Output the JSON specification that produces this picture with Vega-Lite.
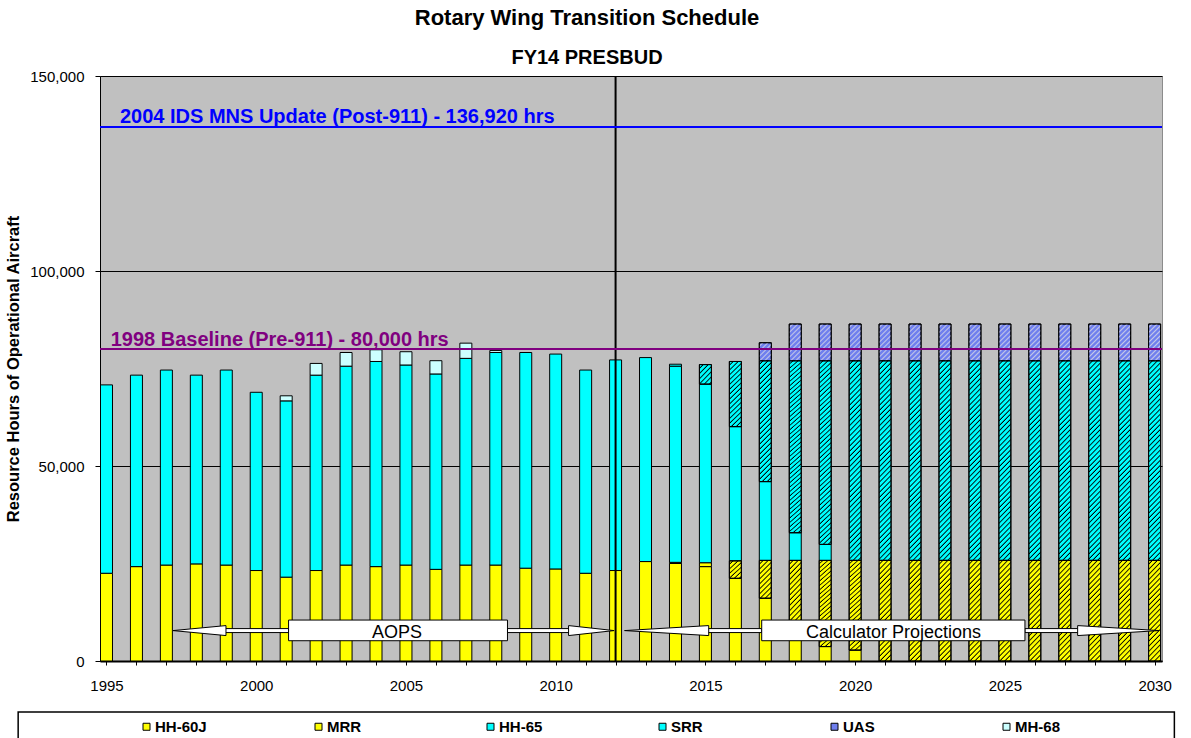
{
"$schema": "https://vega.github.io/schema/vega-lite/v6.json",
"width": 1062,
"height": 585,
"autosize": {"type": "none"},
"padding": {"left": 100, "top": 76, "right": 29, "bottom": 77},
"background": "white",
"title": {"text": "Rotary Wing Transition Schedule", "subtitle": "FY14 PRESBUD", "anchor": "middle", "frame": "group", "dx": -44, "offset": 0, "font": "Liberation Sans", "fontSize": 22, "fontWeight": "bold", "color": "black", "subtitleFont": "Liberation Sans", "subtitleFontSize": 20, "subtitleFontWeight": "bold", "subtitleColor": "black", "subtitlePadding": 18},
"config": {"view": {"fill": "#C0C0C0", "stroke": "#8C8C8C", "strokeWidth": 1}, "font": "Liberation Sans"},
"datasets": {
"bars": [
{"year":1995,"series":"HH-60J","hours":22500},{"year":1995,"series":"HH-65","hours":48300},
{"year":1996,"series":"HH-60J","hours":24200},{"year":1996,"series":"HH-65","hours":49100},
{"year":1997,"series":"HH-60J","hours":24600},{"year":1997,"series":"HH-65","hours":50000},
{"year":1998,"series":"HH-60J","hours":24900},{"year":1998,"series":"HH-65","hours":48400},
{"year":1999,"series":"HH-60J","hours":24600},{"year":1999,"series":"HH-65","hours":50000},
{"year":2000,"series":"HH-60J","hours":23200},{"year":2000,"series":"HH-65","hours":45700},
{"year":2001,"series":"HH-60J","hours":21500},{"year":2001,"series":"HH-65","hours":45200},{"year":2001,"series":"MH-68","hours":1300},
{"year":2002,"series":"HH-60J","hours":23200},{"year":2002,"series":"HH-65","hours":50100},{"year":2002,"series":"MH-68","hours":3000},
{"year":2003,"series":"HH-60J","hours":24600},{"year":2003,"series":"HH-65","hours":51000},{"year":2003,"series":"MH-68","hours":3500},
{"year":2004,"series":"HH-60J","hours":24200},{"year":2004,"series":"HH-65","hours":52600},{"year":2004,"series":"MH-68","hours":3000},
{"year":2005,"series":"HH-60J","hours":24600},{"year":2005,"series":"HH-65","hours":51300},{"year":2005,"series":"MH-68","hours":3400},
{"year":2006,"series":"HH-60J","hours":23500},{"year":2006,"series":"HH-65","hours":50100},{"year":2006,"series":"MH-68","hours":3400},
{"year":2007,"series":"HH-60J","hours":24600},{"year":2007,"series":"HH-65","hours":53000},{"year":2007,"series":"MH-68","hours":3900},
{"year":2008,"series":"HH-60J","hours":24600},{"year":2008,"series":"HH-65","hours":54500},{"year":2008,"series":"MH-68","hours":500},
{"year":2009,"series":"HH-60J","hours":23800},{"year":2009,"series":"HH-65","hours":55300},
{"year":2010,"series":"HH-60J","hours":23600},{"year":2010,"series":"HH-65","hours":55100},
{"year":2011,"series":"HH-60J","hours":22500},{"year":2011,"series":"HH-65","hours":52100},
{"year":2012,"series":"HH-60J","hours":23200},{"year":2012,"series":"HH-65","hours":54000},
{"year":2013,"series":"HH-60J","hours":25500},{"year":2013,"series":"HH-65","hours":52300},
{"year":2014,"series":"HH-60J","hours":25000},{"year":2014,"series":"MRR","hours":300},{"year":2014,"series":"HH-65","hours":50300},{"year":2014,"series":"SRR","hours":500},
{"year":2015,"series":"HH-60J","hours":24200},{"year":2015,"series":"MRR","hours":1000},{"year":2015,"series":"HH-65","hours":45800},{"year":2015,"series":"SRR","hours":5000},
{"year":2016,"series":"HH-60J","hours":21200},{"year":2016,"series":"MRR","hours":4500},{"year":2016,"series":"HH-65","hours":34400},{"year":2016,"series":"SRR","hours":16700},
{"year":2017,"series":"HH-60J","hours":16100},{"year":2017,"series":"MRR","hours":9700},{"year":2017,"series":"HH-65","hours":20200},{"year":2017,"series":"SRR","hours":31000},{"year":2017,"series":"UAS","hours":4600},
{"year":2018,"series":"HH-60J","hours":8000},{"year":2018,"series":"MRR","hours":17800},{"year":2018,"series":"HH-65","hours":7100},{"year":2018,"series":"SRR","hours":44100},{"year":2018,"series":"UAS","hours":9400},
{"year":2019,"series":"HH-60J","hours":3700},{"year":2019,"series":"MRR","hours":22100},{"year":2019,"series":"HH-65","hours":4100},{"year":2019,"series":"SRR","hours":47100},{"year":2019,"series":"UAS","hours":9400},
{"year":2020,"series":"HH-60J","hours":2800},{"year":2020,"series":"MRR","hours":23000},{"year":2020,"series":"SRR","hours":51200},{"year":2020,"series":"UAS","hours":9400},
{"year":2021,"series":"MRR","hours":25800},{"year":2021,"series":"SRR","hours":51200},{"year":2021,"series":"UAS","hours":9400},
{"year":2022,"series":"MRR","hours":25800},{"year":2022,"series":"SRR","hours":51200},{"year":2022,"series":"UAS","hours":9400},
{"year":2023,"series":"MRR","hours":25800},{"year":2023,"series":"SRR","hours":51200},{"year":2023,"series":"UAS","hours":9400},
{"year":2024,"series":"MRR","hours":25800},{"year":2024,"series":"SRR","hours":51200},{"year":2024,"series":"UAS","hours":9400},
{"year":2025,"series":"MRR","hours":25800},{"year":2025,"series":"SRR","hours":51200},{"year":2025,"series":"UAS","hours":9400},
{"year":2026,"series":"MRR","hours":25800},{"year":2026,"series":"SRR","hours":51200},{"year":2026,"series":"UAS","hours":9400},
{"year":2027,"series":"MRR","hours":25800},{"year":2027,"series":"SRR","hours":51200},{"year":2027,"series":"UAS","hours":9400},
{"year":2028,"series":"MRR","hours":25800},{"year":2028,"series":"SRR","hours":51200},{"year":2028,"series":"UAS","hours":9400},
{"year":2029,"series":"MRR","hours":25800},{"year":2029,"series":"SRR","hours":51200},{"year":2029,"series":"UAS","hours":9400},
{"year":2030,"series":"MRR","hours":25800},{"year":2030,"series":"SRR","hours":51200},{"year":2030,"series":"UAS","hours":9400}
],
"heads": [
{"id":"a1","year":1997.22,"y0":7800,"y1":7800},{"id":"a1","year":1998.99,"y0":6520,"y1":9080},
{"id":"a2","year":2010.43,"y0":6520,"y1":9080},{"id":"a2","year":2011.95,"y0":7800,"y1":7800},
{"id":"c1","year":2012.3,"y0":7800,"y1":7800},{"id":"c1","year":2015.11,"y0":6520,"y1":9080},
{"id":"c2","year":2027.43,"y0":6520,"y1":9080},{"id":"c2","year":2030.15,"y0":7800,"y1":7800}
],
"shafts": [
{"year":1998.9,"xend":2001.08,"y0":7290,"y1":8310},
{"year":2008.39,"xend":2010.5,"y0":7290,"y1":8310},
{"year":2015.0,"xend":2016.88,"y0":7290,"y1":8310},
{"year":2025.67,"xend":2027.5,"y0":7290,"y1":8310}
],
"boxes": [
{"year":2001.08,"xend":2008.39,"y0":5200,"y1":10500},
{"year":2016.88,"xend":2025.67,"y0":5200,"y1":10500}
],
"boxlabels": [
{"year":2004.7,"y1":7800,"label":"AOPS"},
{"year":2021.28,"y1":7800,"label":"Calculator Projections"}
],
"reflines": [
{"year":1990,"xend":2035,"y1":136920,"line":"IDS"},
{"year":1990,"xend":2035,"y1":80000,"line":"Baseline"}
],
"vline": [{"year":2012,"y0":0,"y1":150000}],
"frame": [{"year":1992.05,"xend":2030.66,"y1":-13077,"y0":-40000}]
},
"encoding": {
"x": {"field": "year", "type": "quantitative", "scale": {"domain": [1994.95, 2030.08], "nice": false, "zero": false},
 "axis": {"title": null, "values": [1995,1996,1997,1998,1999,2000,2001,2002,2003,2004,2005,2006,2007,2008,2009,2010,2011,2012,2013,2014,2015,2016,2017,2018,2019,2020,2021,2022,2023,2024,2025,2026,2027,2028,2029,2030], "format": "d", "labelExpr": "datum.value % 5 === 0 ? datum.label : ''", "grid": false, "domainColor": "black", "domainWidth": 2, "tickColor": "black", "tickSize": 4, "tickWidth": 1, "labelFont": "Liberation Sans", "labelFontSize": 15, "labelColor": "black", "labelPadding": 13, "labelOverlap": false, "labelFlush": false, "labelBound": false}},
"y": {"field": "y1", "type": "quantitative", "scale": {"domain": [0, 150000], "nice": false, "zero": true},
 "axis": {"title": "Resource Hours of Operational Aircraft", "values": [0, 50000, 100000, 150000], "format": ",d", "grid": true, "gridColor": "black", "gridWidth": 1, "domainColor": "black", "domainWidth": 1, "tickColor": "black", "tickSize": 5, "labelFont": "Liberation Sans", "labelFontSize": 15, "labelColor": "black", "labelPadding": 11, "labelOverlap": false, "titleFont": "Liberation Sans", "titleFontSize": 16.5, "titleFontWeight": "bold", "titleColor": "black", "titlePadding": 8}}
},
"layer": [
{
"data": {"name": "bars"},
"transform": [
{"calculate": "indexof(['HH-60J','MRR','HH-65','SRR','UAS','MH-68'], datum.series)", "as": "ord"},
{"stack": "hours", "groupby": ["year"], "sort": [{"field": "ord", "order": "ascending"}], "as": ["y0", "y1"]}
],
"encoding": {"y2": {"field": "y0"}},
"layer": [
{"mark": {"type": "bar", "width": 12, "stroke": "black", "strokeWidth": 1, "clip": true},
 "encoding": {"fill": {"field": "series", "type": "nominal",
  "scale": {"domain": ["HH-60J","MRR","HH-65","SRR","UAS","MH-68"], "range": ["#FFFF00","#FFFF00","#00FFFF","#00FFFF","#6F7FEE","#CCFFFF"]},
  "legend": {"orient": "none", "legendX": 39, "legendY": 643, "direction": "horizontal", "columns": 6, "gridAlign": "all", "columnPadding": 104, "title": null, "symbolType": "square", "symbolSize": 49, "symbolStrokeColor": "black", "symbolStrokeWidth": 1, "symbolOpacity": 1, "labelFont": "Liberation Sans", "labelFontSize": 15, "labelFontWeight": "bold", "labelColor": "black", "labelOffset": 1, "padding": 0}}}},
{"transform": [{"filter": "datum.series === 'SRR' && datum.year >= 2018"}],
 "mark": {"type": "bar", "width": 12, "stroke": "black", "strokeWidth": 1, "clip": true, "fill": {"gradient": "linear", "x1": 0, "y1": 0, "x2": 0.0786, "y2": 1.2772, "stops": [
{"offset":0,"color":"#0000"},{"offset":0.01,"color":"#0000"},{"offset":0.016,"color":"#000"},
{"offset":0.02,"color":"#0000"},{"offset":0.03,"color":"#0000"},{"offset":0.036,"color":"#000"},
{"offset":0.04,"color":"#0000"},{"offset":0.05,"color":"#0000"},{"offset":0.056,"color":"#000"},
{"offset":0.06,"color":"#0000"},{"offset":0.07,"color":"#0000"},{"offset":0.076,"color":"#000"},
{"offset":0.08,"color":"#0000"},{"offset":0.09,"color":"#0000"},{"offset":0.096,"color":"#000"},
{"offset":0.1,"color":"#0000"},{"offset":0.11,"color":"#0000"},{"offset":0.116,"color":"#000"},
{"offset":0.12,"color":"#0000"},{"offset":0.13,"color":"#0000"},{"offset":0.136,"color":"#000"},
{"offset":0.14,"color":"#0000"},{"offset":0.15,"color":"#0000"},{"offset":0.156,"color":"#000"},
{"offset":0.16,"color":"#0000"},{"offset":0.17,"color":"#0000"},{"offset":0.176,"color":"#000"},
{"offset":0.18,"color":"#0000"},{"offset":0.19,"color":"#0000"},{"offset":0.196,"color":"#000"},
{"offset":0.2,"color":"#0000"},{"offset":0.21,"color":"#0000"},{"offset":0.216,"color":"#000"},
{"offset":0.22,"color":"#0000"},{"offset":0.23,"color":"#0000"},{"offset":0.236,"color":"#000"},
{"offset":0.24,"color":"#0000"},{"offset":0.25,"color":"#0000"},{"offset":0.256,"color":"#000"},
{"offset":0.26,"color":"#0000"},{"offset":0.27,"color":"#0000"},{"offset":0.276,"color":"#000"},
{"offset":0.28,"color":"#0000"},{"offset":0.29,"color":"#0000"},{"offset":0.296,"color":"#000"},
{"offset":0.3,"color":"#0000"},{"offset":0.31,"color":"#0000"},{"offset":0.316,"color":"#000"},
{"offset":0.32,"color":"#0000"},{"offset":0.33,"color":"#0000"},{"offset":0.336,"color":"#000"},
{"offset":0.34,"color":"#0000"},{"offset":0.35,"color":"#0000"},{"offset":0.356,"color":"#000"},
{"offset":0.36,"color":"#0000"},{"offset":0.37,"color":"#0000"},{"offset":0.376,"color":"#000"},
{"offset":0.38,"color":"#0000"},{"offset":0.39,"color":"#0000"},{"offset":0.396,"color":"#000"},
{"offset":0.4,"color":"#0000"},{"offset":0.41,"color":"#0000"},{"offset":0.416,"color":"#000"},
{"offset":0.42,"color":"#0000"},{"offset":0.43,"color":"#0000"},{"offset":0.436,"color":"#000"},
{"offset":0.44,"color":"#0000"},{"offset":0.45,"color":"#0000"},{"offset":0.456,"color":"#000"},
{"offset":0.46,"color":"#0000"},{"offset":0.47,"color":"#0000"},{"offset":0.476,"color":"#000"},
{"offset":0.48,"color":"#0000"},{"offset":0.49,"color":"#0000"},{"offset":0.496,"color":"#000"},
{"offset":0.5,"color":"#0000"},{"offset":0.51,"color":"#0000"},{"offset":0.516,"color":"#000"},
{"offset":0.52,"color":"#0000"},{"offset":0.53,"color":"#0000"},{"offset":0.536,"color":"#000"},
{"offset":0.54,"color":"#0000"},{"offset":0.55,"color":"#0000"},{"offset":0.556,"color":"#000"},
{"offset":0.56,"color":"#0000"},{"offset":0.57,"color":"#0000"},{"offset":0.576,"color":"#000"},
{"offset":0.58,"color":"#0000"},{"offset":0.59,"color":"#0000"},{"offset":0.596,"color":"#000"},
{"offset":0.6,"color":"#0000"},{"offset":0.61,"color":"#0000"},{"offset":0.616,"color":"#000"},
{"offset":0.62,"color":"#0000"},{"offset":0.63,"color":"#0000"},{"offset":0.636,"color":"#000"},
{"offset":0.64,"color":"#0000"},{"offset":0.65,"color":"#0000"},{"offset":0.656,"color":"#000"},
{"offset":0.66,"color":"#0000"},{"offset":0.67,"color":"#0000"},{"offset":0.676,"color":"#000"},
{"offset":0.68,"color":"#0000"},{"offset":0.69,"color":"#0000"},{"offset":0.696,"color":"#000"},
{"offset":0.7,"color":"#0000"},{"offset":0.71,"color":"#0000"},{"offset":0.716,"color":"#000"},
{"offset":0.72,"color":"#0000"},{"offset":0.73,"color":"#0000"},{"offset":0.736,"color":"#000"},
{"offset":0.74,"color":"#0000"},{"offset":0.75,"color":"#0000"},{"offset":0.756,"color":"#000"},
{"offset":0.76,"color":"#0000"},{"offset":0.77,"color":"#0000"},{"offset":0.776,"color":"#000"},
{"offset":0.78,"color":"#0000"},{"offset":0.79,"color":"#0000"},{"offset":0.796,"color":"#000"},
{"offset":0.8,"color":"#0000"},{"offset":0.81,"color":"#0000"},{"offset":0.816,"color":"#000"},
{"offset":0.82,"color":"#0000"},{"offset":0.83,"color":"#0000"},{"offset":0.836,"color":"#000"},
{"offset":0.84,"color":"#0000"}]}}},
{"transform": [{"filter": "datum.series === 'MRR' && datum.year >= 2019"}],
 "mark": {"type": "bar", "width": 12, "stroke": "black", "strokeWidth": 1, "clip": true, "fill": {"gradient": "linear", "x1": 0, "y1": 0, "x2": 0.3078, "y2": 2.5133, "stops": [
{"offset":0,"color":"#0000"},{"offset":0.01,"color":"#0000"},{"offset":0.016,"color":"#000"},
{"offset":0.02,"color":"#0000"},{"offset":0.03,"color":"#0000"},{"offset":0.036,"color":"#000"},
{"offset":0.04,"color":"#0000"},{"offset":0.05,"color":"#0000"},{"offset":0.056,"color":"#000"},
{"offset":0.06,"color":"#0000"},{"offset":0.07,"color":"#0000"},{"offset":0.076,"color":"#000"},
{"offset":0.08,"color":"#0000"},{"offset":0.09,"color":"#0000"},{"offset":0.096,"color":"#000"},
{"offset":0.1,"color":"#0000"},{"offset":0.11,"color":"#0000"},{"offset":0.116,"color":"#000"},
{"offset":0.12,"color":"#0000"},{"offset":0.13,"color":"#0000"},{"offset":0.136,"color":"#000"},
{"offset":0.14,"color":"#0000"},{"offset":0.15,"color":"#0000"},{"offset":0.156,"color":"#000"},
{"offset":0.16,"color":"#0000"},{"offset":0.17,"color":"#0000"},{"offset":0.176,"color":"#000"},
{"offset":0.18,"color":"#0000"},{"offset":0.19,"color":"#0000"},{"offset":0.196,"color":"#000"},
{"offset":0.2,"color":"#0000"},{"offset":0.21,"color":"#0000"},{"offset":0.216,"color":"#000"},
{"offset":0.22,"color":"#0000"},{"offset":0.23,"color":"#0000"},{"offset":0.236,"color":"#000"},
{"offset":0.24,"color":"#0000"},{"offset":0.25,"color":"#0000"},{"offset":0.256,"color":"#000"},
{"offset":0.26,"color":"#0000"},{"offset":0.27,"color":"#0000"},{"offset":0.276,"color":"#000"},
{"offset":0.28,"color":"#0000"},{"offset":0.29,"color":"#0000"},{"offset":0.296,"color":"#000"},
{"offset":0.3,"color":"#0000"},{"offset":0.31,"color":"#0000"},{"offset":0.316,"color":"#000"},
{"offset":0.32,"color":"#0000"},{"offset":0.33,"color":"#0000"},{"offset":0.336,"color":"#000"},
{"offset":0.34,"color":"#0000"},{"offset":0.35,"color":"#0000"},{"offset":0.356,"color":"#000"},
{"offset":0.36,"color":"#0000"},{"offset":0.37,"color":"#0000"},{"offset":0.376,"color":"#000"},
{"offset":0.38,"color":"#0000"},{"offset":0.39,"color":"#0000"},{"offset":0.396,"color":"#000"},
{"offset":0.4,"color":"#0000"},{"offset":0.41,"color":"#0000"},{"offset":0.416,"color":"#000"},
{"offset":0.42,"color":"#0000"},{"offset":0.43,"color":"#0000"},{"offset":0.436,"color":"#000"},
{"offset":0.44,"color":"#0000"}]}}},
{"transform": [{"filter": "datum.series === 'SRR' && datum.year === 2017"}],
 "mark": {"type": "bar", "width": 12, "stroke": "black", "strokeWidth": 1, "clip": true, "fill": {"gradient": "linear", "x1": 0, "y1": 0, "x2": 0.2029, "y2": 2.046, "stops": [
{"offset":0,"color":"#0000"},{"offset":0.01,"color":"#0000"},{"offset":0.016,"color":"#000"},
{"offset":0.02,"color":"#0000"},{"offset":0.03,"color":"#0000"},{"offset":0.036,"color":"#000"},
{"offset":0.04,"color":"#0000"},{"offset":0.05,"color":"#0000"},{"offset":0.056,"color":"#000"},
{"offset":0.06,"color":"#0000"},{"offset":0.07,"color":"#0000"},{"offset":0.076,"color":"#000"},
{"offset":0.08,"color":"#0000"},{"offset":0.09,"color":"#0000"},{"offset":0.096,"color":"#000"},
{"offset":0.1,"color":"#0000"},{"offset":0.11,"color":"#0000"},{"offset":0.116,"color":"#000"},
{"offset":0.12,"color":"#0000"},{"offset":0.13,"color":"#0000"},{"offset":0.136,"color":"#000"},
{"offset":0.14,"color":"#0000"},{"offset":0.15,"color":"#0000"},{"offset":0.156,"color":"#000"},
{"offset":0.16,"color":"#0000"},{"offset":0.17,"color":"#0000"},{"offset":0.176,"color":"#000"},
{"offset":0.18,"color":"#0000"},{"offset":0.19,"color":"#0000"},{"offset":0.196,"color":"#000"},
{"offset":0.2,"color":"#0000"},{"offset":0.21,"color":"#0000"},{"offset":0.216,"color":"#000"},
{"offset":0.22,"color":"#0000"},{"offset":0.23,"color":"#0000"},{"offset":0.236,"color":"#000"},
{"offset":0.24,"color":"#0000"},{"offset":0.25,"color":"#0000"},{"offset":0.256,"color":"#000"},
{"offset":0.26,"color":"#0000"},{"offset":0.27,"color":"#0000"},{"offset":0.276,"color":"#000"},
{"offset":0.28,"color":"#0000"},{"offset":0.29,"color":"#0000"},{"offset":0.296,"color":"#000"},
{"offset":0.3,"color":"#0000"},{"offset":0.31,"color":"#0000"},{"offset":0.316,"color":"#000"},
{"offset":0.32,"color":"#0000"},{"offset":0.33,"color":"#0000"},{"offset":0.336,"color":"#000"},
{"offset":0.34,"color":"#0000"},{"offset":0.35,"color":"#0000"},{"offset":0.356,"color":"#000"},
{"offset":0.36,"color":"#0000"},{"offset":0.37,"color":"#0000"},{"offset":0.376,"color":"#000"},
{"offset":0.38,"color":"#0000"},{"offset":0.39,"color":"#0000"},{"offset":0.396,"color":"#000"},
{"offset":0.4,"color":"#0000"},{"offset":0.41,"color":"#0000"},{"offset":0.416,"color":"#000"},
{"offset":0.42,"color":"#0000"},{"offset":0.43,"color":"#0000"},{"offset":0.436,"color":"#000"},
{"offset":0.44,"color":"#0000"},{"offset":0.45,"color":"#0000"},{"offset":0.456,"color":"#000"},
{"offset":0.46,"color":"#0000"},{"offset":0.47,"color":"#0000"},{"offset":0.476,"color":"#000"},
{"offset":0.48,"color":"#0000"},{"offset":0.49,"color":"#0000"},{"offset":0.496,"color":"#000"},
{"offset":0.5,"color":"#0000"},{"offset":0.51,"color":"#0000"},{"offset":0.516,"color":"#000"},
{"offset":0.52,"color":"#0000"},{"offset":0.53,"color":"#0000"},{"offset":0.536,"color":"#000"},
{"offset":0.54,"color":"#0000"}]}}},
{"transform": [{"filter": "(datum.series === 'MRR' && datum.year === 2018) || (datum.series === 'SRR' && datum.year === 2016)"}],
 "mark": {"type": "bar", "width": 12, "stroke": "black", "strokeWidth": 1, "clip": true, "fill": {"gradient": "linear", "x1": 0, "y1": 0, "x2": 0.6475, "y2": 3.6154, "stops": [
{"offset":0,"color":"#0000"},{"offset":0.01,"color":"#0000"},{"offset":0.016,"color":"#000"},
{"offset":0.02,"color":"#0000"},{"offset":0.03,"color":"#0000"},{"offset":0.036,"color":"#000"},
{"offset":0.04,"color":"#0000"},{"offset":0.05,"color":"#0000"},{"offset":0.056,"color":"#000"},
{"offset":0.06,"color":"#0000"},{"offset":0.07,"color":"#0000"},{"offset":0.076,"color":"#000"},
{"offset":0.08,"color":"#0000"},{"offset":0.09,"color":"#0000"},{"offset":0.096,"color":"#000"},
{"offset":0.1,"color":"#0000"},{"offset":0.11,"color":"#0000"},{"offset":0.116,"color":"#000"},
{"offset":0.12,"color":"#0000"},{"offset":0.13,"color":"#0000"},{"offset":0.136,"color":"#000"},
{"offset":0.14,"color":"#0000"},{"offset":0.15,"color":"#0000"},{"offset":0.156,"color":"#000"},
{"offset":0.16,"color":"#0000"},{"offset":0.17,"color":"#0000"},{"offset":0.176,"color":"#000"},
{"offset":0.18,"color":"#0000"},{"offset":0.19,"color":"#0000"},{"offset":0.196,"color":"#000"},
{"offset":0.2,"color":"#0000"},{"offset":0.21,"color":"#0000"},{"offset":0.216,"color":"#000"},
{"offset":0.22,"color":"#0000"},{"offset":0.23,"color":"#0000"},{"offset":0.236,"color":"#000"},
{"offset":0.24,"color":"#0000"},{"offset":0.25,"color":"#0000"},{"offset":0.256,"color":"#000"},
{"offset":0.26,"color":"#0000"},{"offset":0.27,"color":"#0000"},{"offset":0.276,"color":"#000"},
{"offset":0.28,"color":"#0000"},{"offset":0.29,"color":"#0000"},{"offset":0.296,"color":"#000"},
{"offset":0.3,"color":"#0000"},{"offset":0.31,"color":"#0000"},{"offset":0.316,"color":"#000"},
{"offset":0.32,"color":"#0000"}]}}},
{"transform": [{"filter": "datum.series === 'MRR' && datum.year === 2017"}],
 "mark": {"type": "bar", "width": 12, "stroke": "black", "strokeWidth": 1, "clip": true, "fill": {"gradient": "linear", "x1": 0, "y1": 0, "x2": 1.8892, "y2": 5.9824, "stops": [
{"offset":0,"color":"#0000"},{"offset":0.01,"color":"#0000"},{"offset":0.016,"color":"#000"},
{"offset":0.02,"color":"#0000"},{"offset":0.03,"color":"#0000"},{"offset":0.036,"color":"#000"},
{"offset":0.04,"color":"#0000"},{"offset":0.05,"color":"#0000"},{"offset":0.056,"color":"#000"},
{"offset":0.06,"color":"#0000"},{"offset":0.07,"color":"#0000"},{"offset":0.076,"color":"#000"},
{"offset":0.08,"color":"#0000"},{"offset":0.09,"color":"#0000"},{"offset":0.096,"color":"#000"},
{"offset":0.1,"color":"#0000"},{"offset":0.11,"color":"#0000"},{"offset":0.116,"color":"#000"},
{"offset":0.12,"color":"#0000"},{"offset":0.13,"color":"#0000"},{"offset":0.136,"color":"#000"},
{"offset":0.14,"color":"#0000"},{"offset":0.15,"color":"#0000"},{"offset":0.156,"color":"#000"},
{"offset":0.16,"color":"#0000"},{"offset":0.17,"color":"#0000"},{"offset":0.176,"color":"#000"},
{"offset":0.18,"color":"#0000"},{"offset":0.19,"color":"#0000"},{"offset":0.196,"color":"#000"},
{"offset":0.2,"color":"#0000"}]}}},
{"transform": [{"filter": "(datum.series === 'MRR' && datum.year === 2016) || (datum.series === 'SRR' && datum.year === 2015)"}],
 "mark": {"type": "bar", "width": 12, "stroke": "black", "strokeWidth": 1, "clip": true, "fill": {"gradient": "linear", "x1": 0, "y1": 0, "x2": 5.9406, "y2": 9.4059, "stops": [
{"offset":0,"color":"#0000"},{"offset":0.01,"color":"#0000"},{"offset":0.016,"color":"#000"},
{"offset":0.02,"color":"#0000"},{"offset":0.03,"color":"#0000"},{"offset":0.036,"color":"#000"},
{"offset":0.04,"color":"#0000"},{"offset":0.05,"color":"#0000"},{"offset":0.056,"color":"#000"},
{"offset":0.06,"color":"#0000"},{"offset":0.07,"color":"#0000"},{"offset":0.076,"color":"#000"},
{"offset":0.08,"color":"#0000"},{"offset":0.09,"color":"#0000"},{"offset":0.096,"color":"#000"},
{"offset":0.1,"color":"#0000"},{"offset":0.11,"color":"#0000"},{"offset":0.116,"color":"#000"},
{"offset":0.12,"color":"#0000"},{"offset":0.13,"color":"#0000"},{"offset":0.136,"color":"#000"},
{"offset":0.14,"color":"#0000"}]}}},
{"transform": [{"filter": "datum.series === 'UAS' && datum.year >= 2018"}],
 "mark": {"type": "bar", "width": 12, "stroke": "black", "strokeWidth": 1, "clip": true, "fill": {"gradient": "linear", "x1": 0, "y1": 0, "x2": 1.9828, "y2": 6.1137, "stops": [
{"offset":0,"color":"#c4c8e800"},{"offset":0.008,"color":"#c4c8e800"},{"offset":0.014,"color":"#c4c8e8"},
{"offset":0.02,"color":"#c4c8e800"},{"offset":0.028,"color":"#c4c8e800"},{"offset":0.034,"color":"#c4c8e8"},
{"offset":0.04,"color":"#c4c8e800"},{"offset":0.048,"color":"#c4c8e800"},{"offset":0.054,"color":"#c4c8e8"},
{"offset":0.06,"color":"#c4c8e800"},{"offset":0.068,"color":"#c4c8e800"},{"offset":0.074,"color":"#c4c8e8"},
{"offset":0.08,"color":"#c4c8e800"},{"offset":0.088,"color":"#c4c8e800"},{"offset":0.094,"color":"#c4c8e8"},
{"offset":0.1,"color":"#c4c8e800"},{"offset":0.108,"color":"#c4c8e800"},{"offset":0.114,"color":"#c4c8e8"},
{"offset":0.12,"color":"#c4c8e800"},{"offset":0.128,"color":"#c4c8e800"},{"offset":0.134,"color":"#c4c8e8"},
{"offset":0.14,"color":"#c4c8e800"},{"offset":0.148,"color":"#c4c8e800"},{"offset":0.154,"color":"#c4c8e8"},
{"offset":0.16,"color":"#c4c8e800"},{"offset":0.168,"color":"#c4c8e800"},{"offset":0.174,"color":"#c4c8e8"},
{"offset":0.18,"color":"#c4c8e800"},{"offset":0.188,"color":"#c4c8e800"},{"offset":0.194,"color":"#c4c8e8"},
{"offset":0.2,"color":"#c4c8e800"}]}}},
{"transform": [{"filter": "datum.series === 'UAS' && datum.year === 2017"}],
 "mark": {"type": "bar", "width": 12, "stroke": "black", "strokeWidth": 1, "clip": true, "fill": {"gradient": "linear", "x1": 0, "y1": 0, "x2": 6.4103, "y2": 9.6154, "stops": [
{"offset":0,"color":"#c4c8e800"},{"offset":0.008,"color":"#c4c8e800"},{"offset":0.014,"color":"#c4c8e8"},
{"offset":0.02,"color":"#c4c8e800"},{"offset":0.028,"color":"#c4c8e800"},{"offset":0.034,"color":"#c4c8e8"},
{"offset":0.04,"color":"#c4c8e800"},{"offset":0.048,"color":"#c4c8e800"},{"offset":0.054,"color":"#c4c8e8"},
{"offset":0.06,"color":"#c4c8e800"},{"offset":0.068,"color":"#c4c8e800"},{"offset":0.074,"color":"#c4c8e8"},
{"offset":0.08,"color":"#c4c8e800"},{"offset":0.088,"color":"#c4c8e800"},{"offset":0.094,"color":"#c4c8e8"},
{"offset":0.1,"color":"#c4c8e800"},{"offset":0.108,"color":"#c4c8e800"},{"offset":0.114,"color":"#c4c8e8"},
{"offset":0.12,"color":"#c4c8e800"}]}}}
]
},
{"data": {"name": "vline"}, "mark": {"type": "rule", "color": "black", "strokeWidth": 2}, "encoding": {"y2": {"field": "y0"}}},
{"data": {"name": "reflines"}, "mark": {"type": "rule", "strokeWidth": 2, "clip": true}, "encoding": {"x2": {"field": "xend"}, "color": {"field": "line", "type": "nominal", "scale": {"domain": ["IDS", "Baseline"], "range": ["#0000FF", "#800080"]}, "legend": null}}},
{"data": {"values": [{"year": 1995.45, "y1": 136920, "label": "2004 IDS MNS Update (Post-911) - 136,920 hrs"}]}, "mark": {"type": "text", "align": "left", "baseline": "alphabetic", "dy": -4, "font": "Liberation Sans", "fontSize": 20, "fontWeight": "bold", "color": "#0000FF"}, "encoding": {"text": {"field": "label"}}},
{"data": {"values": [{"year": 1995.14, "y1": 80000, "label": "1998 Baseline (Pre-911) - 80,000 hrs"}]}, "mark": {"type": "text", "align": "left", "baseline": "alphabetic", "dy": -3, "font": "Liberation Sans", "fontSize": 20, "fontWeight": "bold", "color": "#800080"}, "encoding": {"text": {"field": "label"}}},
{"data": {"name": "shafts"}, "mark": {"type": "rect", "fill": "white", "stroke": "black", "strokeWidth": 1}, "encoding": {"x2": {"field": "xend"}, "y2": {"field": "y0"}}},
{"data": {"name": "heads"}, "mark": {"type": "area", "fill": "white", "stroke": "black", "strokeWidth": 1, "clip": true, "opacity": 1}, "encoding": {"y2": {"field": "y0"}, "detail": {"field": "id"}}},
{"data": {"name": "boxes"}, "mark": {"type": "rect", "fill": "white", "stroke": "black", "strokeWidth": 1}, "encoding": {"x2": {"field": "xend"}, "y2": {"field": "y0"}}},
{"data": {"name": "boxlabels"}, "mark": {"type": "text", "align": "center", "baseline": "middle", "dy": 2, "font": "Liberation Sans", "fontSize": 18, "color": "black"}, "encoding": {"text": {"field": "label"}}},
{"data": {"name": "frame"}, "mark": {"type": "rect", "filled": false, "stroke": "black", "strokeWidth": 1.5}, "encoding": {"x2": {"field": "xend"}, "y2": {"field": "y0"}}}
]
}
